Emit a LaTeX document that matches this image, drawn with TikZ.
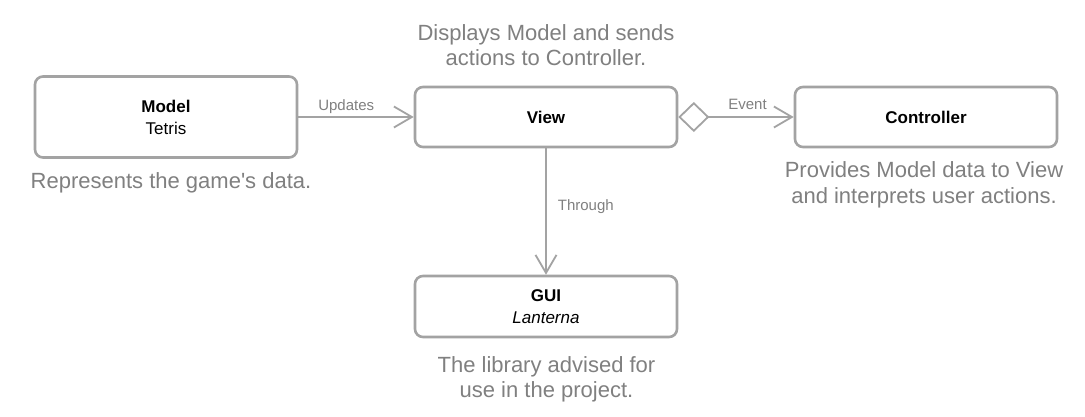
\documentclass[tikz,border=0pt]{standalone}
\usepackage{fontspec}
\newfontfamily\lib{Liberation Sans}
\usetikzlibrary{arrows.meta}
\definecolor{bordergray}{HTML}{A3A3A3}
\definecolor{textgray}{HTML}{808080}
\begin{document}
\begin{tikzpicture}[x=1pt,y=-1pt,
  box/.style={draw=bordergray, line width=2.6pt, rounded corners=8pt, fill=white,
    minimum width=262pt, align=center, inner sep=0pt,
    font=\lib\fontsize{17}{22}\selectfont},
  desc/.style={text=textgray, inner sep=0pt, anchor=base, font=\lib\fontsize{22}{26}\selectfont},
  elabel/.style={text=textgray, inner sep=0pt, font=\lib\fontsize{15}{18}\selectfont},
  edge/.style={draw=bordergray, line width=1.8pt},
  barb/.style={-{Straight Barb[length=18pt,width=21pt]}}
]
\useasboundingbox (0,0) rectangle (1085,416);
\fill[white] (0,0) rectangle (1085,416);

\node[box, minimum height=81pt] (model) at (166,117) {\textbf{Model}\\Tetris};
\node[box, minimum height=60pt] (view) at (546,117) {\textbf{View}};
\node[box, minimum height=60pt] (controller) at (926,117) {\textbf{Controller}};
\node[box, minimum height=61pt] (gui) at (546,306.5) {\textbf{GUI}\\\textit{Lanterna}};

\node[desc] (dv1) at (546,40) {Displays Model and sends};
\node[desc] (dv2) at (546,65) {actions to Controller.};
\node[desc] (dm) at (171,188) {Represents the game's data.};
\node[desc] (dc1) at (924,177) {Provides Model data to View};
\node[desc] (dc2) at (924,203) {and interprets user actions.};
\node[desc] (dg1) at (546.5,372) {The library advised for};
\node[desc] (dg2) at (546.5,397) {use in the project.};

\draw[edge, barb] (model.east) -- node[elabel, pos=0.415, anchor=base, yshift=7pt] {Updates} (view.west);
\draw[edge, {Diamond[length=31pt,width=30pt,fill=white]}-{Straight Barb[length=18pt,width=21pt]}]
  (view.east) -- node[elabel, pos=0.6, anchor=base, yshift=8pt] {Event} (controller.west);
\draw[edge, barb] (view.south) -- node[elabel, pos=0.49, anchor=base west, xshift=11pt] {Through} (gui.north);
\end{tikzpicture}
\end{document}
